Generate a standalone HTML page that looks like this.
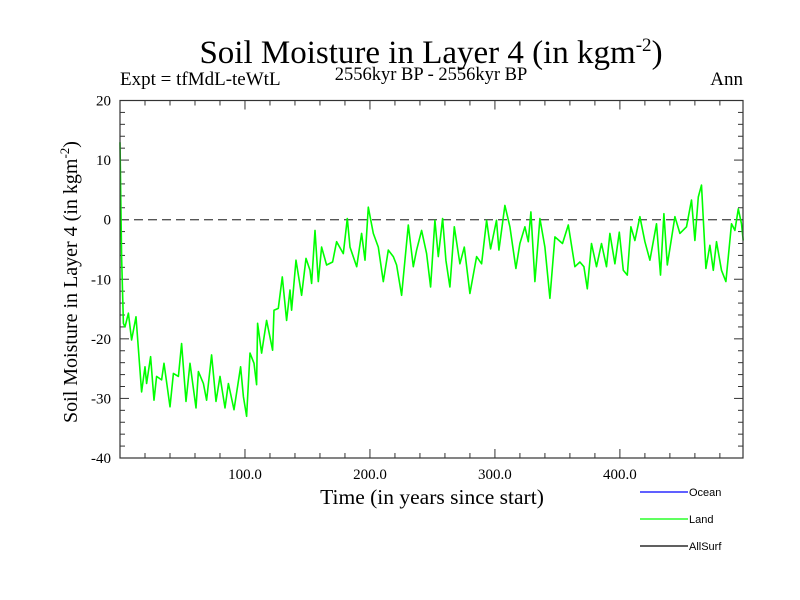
<!DOCTYPE html>
<html><head><meta charset="utf-8">
<style>
body{margin:0;background:#fff;}
svg{display:block;font-family:"Liberation Serif",serif;}
</style></head>
<body>
<svg id="chart" width="800" height="600" viewBox="0 0 800 600">
<rect width="800" height="600" fill="#fff"/>
<text x="431" y="63" font-size="33" text-anchor="middle">Soil Moisture in Layer 4 (in kgm<tspan dy="-12" font-size="19">-2</tspan><tspan dy="12">)</tspan></text>
<text x="431" y="80" font-size="18.5" text-anchor="middle">2556kyr BP - 2556kyr BP</text>
<text x="120" y="85" font-size="19">Expt = tfMdL-teWtL</text>
<text x="743" y="85" font-size="19" text-anchor="end">Ann</text>
<g id="axes"></g>
<g id="series"></g>
<rect x="120" y="100.5" width="623" height="357.5" fill="none" stroke="#333" stroke-width="1.2"/>
<text transform="translate(77,282) rotate(-90)" font-size="20" text-anchor="middle">Soil Moisture in Layer 4 (in kgm<tspan dy="-8" font-size="13">-2</tspan><tspan dy="8">)</tspan></text>
<text x="432" y="504" font-size="21.5" text-anchor="middle">Time (in years since start)</text>
<g font-family="Liberation Sans, sans-serif" font-size="11">
<line x1="640" y1="492" x2="688" y2="492" stroke="#0000ff" stroke-width="1.2"/>
<text x="689" y="496">Ocean</text>
<line x1="640" y1="519" x2="688" y2="519" stroke="#00ff00" stroke-width="1.2"/>
<text x="689" y="523">Land</text>
<line x1="640" y1="546" x2="688" y2="546" stroke="#000" stroke-width="1.2"/>
<text x="689" y="550">AllSurf</text>
</g>
</svg>
<script>
const years=[0,1.3,2.7,4,6.7,9.3,12.8,17.3,20,21.3,24.5,27.2,29.3,33.3,35.2,40,42.7,46.7,49.3,52.8,56,60.8,62.7,66.7,69.3,73.3,76.8,80,84,86.7,91.2,96.5,98.7,101.3,104,107.2,109.3,110.1,113.3,117.3,122.1,123.2,126.7,129.9,133.3,136,137.3,140.8,145.3,148.8,152,153.3,156,158.7,161.3,165.3,170.1,173.3,178.7,181.9,184,189.4,193.3,196,198.7,202.7,206.7,210.7,214.7,218.7,221.3,225.3,230.7,234.7,237.3,241.3,245.3,248.5,252,254.7,258.1,260.8,264,267.5,272,275.5,280,285.3,289.3,293.3,296.5,301.3,303.2,308,312,316.8,320,324,326.7,328.8,332,336,340,344,348,354.1,358.7,364,368,371.2,373.9,377.3,381.3,385.3,389.3,392,396,399.5,402.7,405.9,408.8,412,416,420,424,429.3,432.5,435.2,437.9,444,448,453.3,457.3,460,462.7,465.3,468.8,472,474.7,477.3,481.3,484.8,489.3,492,494.7,497.3,498.7];
const landValues=[13,-6.2,-17.4,-18,-15.7,-20.2,-16.3,-28.9,-24.7,-27.5,-23,-30.3,-26.3,-26.9,-24.1,-31.4,-25.8,-26.3,-20.8,-30.5,-24.1,-31.6,-25.5,-27.5,-30.3,-22.7,-30.5,-26.3,-31.6,-27.5,-31.9,-24.7,-29.7,-33,-22.4,-24.1,-27.7,-17.4,-22.4,-16.9,-21.9,-15.2,-14.9,-9.6,-16.9,-11.8,-15.2,-6.8,-12.7,-6.5,-8.5,-10.7,-1.8,-10.4,-4.6,-7.6,-7.1,-3.7,-5.7,0.2,-4.6,-7.9,-2.3,-6.8,2.1,-2.3,-4.6,-10.4,-5.1,-6.2,-7.6,-12.7,-0.9,-7.9,-5.1,-1.8,-5.7,-11.3,-0.1,-6.2,0.2,-6.8,-11.3,-1.2,-7.4,-4.6,-12.4,-6.2,-7.4,-0.1,-4.9,-0.1,-5.1,2.4,-1.2,-8.2,-4,-1.2,-3.7,1.3,-10.4,0.2,-4.6,-13.2,-2.9,-4,-0.9,-7.9,-7.1,-7.9,-11.6,-4,-7.9,-4,-7.9,-2.3,-7.4,-2.1,-8.5,-9.3,-1.2,-3.5,0.5,-3.7,-6.8,-0.7,-9.3,1,-7.6,0.5,-2.3,-1.2,3.3,-3.5,3.8,5.8,-8.2,-4.3,-8.5,-3.7,-8.5,-10.4,-0.7,-1.8,1.8,-0.7,-3.5];
const yTicks=[20,10,0,-10,-20,-30,-40];
const yTickLabels=["20","10","0","-10","-20","-30","-40"];
const xTicks=[100,200,300,400];
const xTickLabels=["100.0","200.0","300.0","400.0"];
const NS="http://www.w3.org/2000/svg";
const X0=120,X1=743,Y0=100.5,Y1=458,xMin=0,xMax=498.5,yMin=-40,yMax=20;
function xs(v){return X0+(v-xMin)/(xMax-xMin)*(X1-X0);}
function ys(v){return Y1-(v-yMin)/(yMax-yMin)*(Y1-Y0);}
function mk(tag,attrs,parent){const e=document.createElementNS(NS,tag);for(const k in attrs)e.setAttribute(k,attrs[k]);parent.appendChild(e);return e;}
const axes=document.getElementById('axes');
for(let v=-40;v<=20;v+=2){
  const major=(v%10===0);const L=major?9:5;const y=ys(v);
  const t=mk('line',{x1:X0,y1:y,x2:X0+L,y2:y,stroke:'#333','stroke-width':1},axes);
  
  
  const t2=mk('line',{x1:X1,y1:y,x2:X1-L,y2:y,stroke:'#333','stroke-width':1},axes);
  
  
}
for(let v=20;v<xMax;v+=20){
  const major=(v%100===0);const L=major?9:5;const x=xs(v);
  const t=mk('line',{x1:x,y1:Y1,x2:x,y2:Y1-L,stroke:'#333','stroke-width':1},axes);
  
  
  const t2=mk('line',{x1:x,y1:Y0,x2:x,y2:Y0+L,stroke:'#333','stroke-width':1},axes);
  
  
}
yTicks.forEach((v,i)=>{
  const t=mk('text',{x:111,y:ys(v)+5,'font-size':15,'text-anchor':'end'},axes);
  t.textContent=yTickLabels[i];
  
  
});
xTicks.forEach((v,i)=>{
  const t=mk('text',{x:xs(v),y:479,'font-size':15,'text-anchor':'middle'},axes);
  t.textContent=xTickLabels[i];
  
  
});
const zl=mk('line',{x1:X0,y1:ys(0),x2:X1,y2:ys(0),stroke:'#555','stroke-width':1.3,'stroke-dasharray':'9,5'},axes);


const series=document.getElementById('series');
const pts=years.map((y,i)=>xs(y).toFixed(1)+','+ys(landValues[i]).toFixed(1)).join(' ');
const pl=mk('polyline',{points:pts,fill:'none',stroke:'#00ff00','stroke-width':1.6,'stroke-linejoin':'round'},series);


</script>
</body></html>
